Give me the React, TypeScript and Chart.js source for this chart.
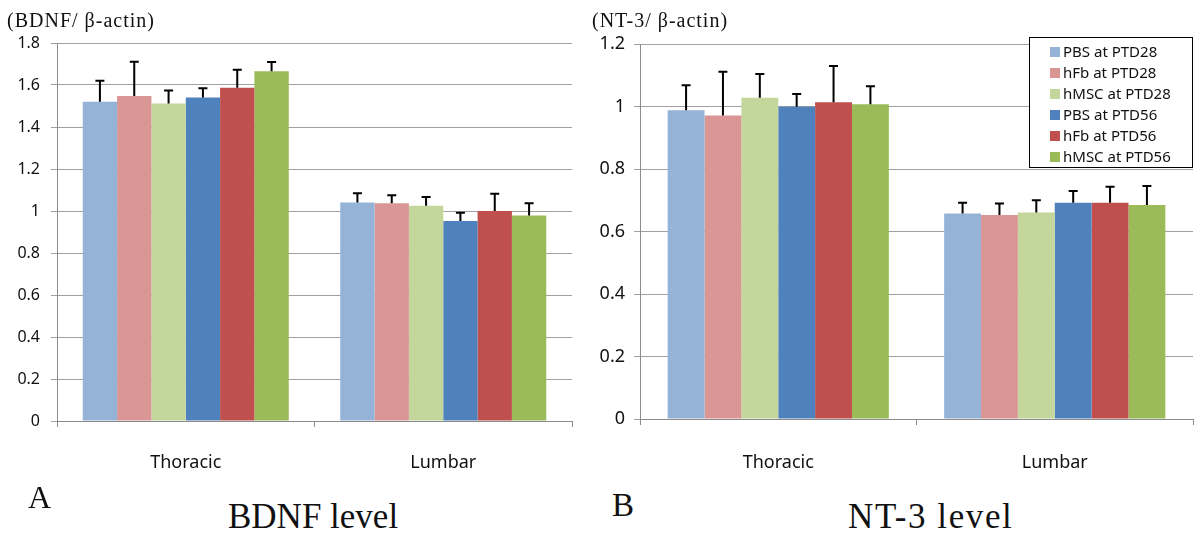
import { useEffect, useRef } from "react";
import { Chart, registerables } from "chart.js";

Chart.register(...registerables);

const categories = ["Thoracic", "Lumbar"];
const seriesNames = [
  "PBS at PTD28",
  "hFb at PTD28",
  "hMSC at PTD28",
  "PBS at PTD56",
  "hFb at PTD56",
  "hMSC at PTD56",
];
const seriesColors = ["#95B3D7", "#D99694", "#C3D69B", "#4F81BD", "#C0504D", "#9BBB59"];

// BDNF / beta-actin
const bdnfThoracic = [1.52, 1.548, 1.512, 1.54, 1.587, 1.665];
const bdnfThoracicErr = [0.1, 0.163, 0.062, 0.045, 0.086, 0.045];
const bdnfLumbar = [1.04, 1.037, 1.025, 0.952, 1.0, 0.978];
const bdnfLumbarErr = [0.045, 0.038, 0.042, 0.04, 0.082, 0.059];

// NT-3 / beta-actin
const nt3Thoracic = [0.988, 0.971, 1.028, 0.999, 1.014, 1.007];
const nt3ThoracicErr = [0.08, 0.14, 0.076, 0.041, 0.116, 0.058];
const nt3Lumbar = [0.658, 0.653, 0.661, 0.692, 0.692, 0.685];
const nt3LumbarErr = [0.034, 0.037, 0.039, 0.038, 0.051, 0.061];

const bdnfYMax = 1.8;
const nt3YMax = 1.2;
const yStep = 0.2;

const SANS = "'Noto Sans', sans-serif";
const SERIF = "'Liberation Serif', 'Times New Roman', serif";

const errorBarPlugin = {
  id: "errorBars",
  afterDatasetsDraw(chart: any, _args: any, opts: any) {
    const ctx = chart.ctx;
    const yScale = chart.scales.y;
    ctx.save();
    ctx.strokeStyle = "#000000";
    ctx.lineWidth = 2;
    chart.data.datasets.forEach((ds: any, di: number) => {
      const meta = chart.getDatasetMeta(di);
      meta.data.forEach((bar: any, i: number) => {
        const v = ds.data[i] as number;
        const e = opts.errors[di][i];
        const top = yScale.getPixelForValue(v + e);
        ctx.beginPath();
        ctx.moveTo(bar.x, bar.y);
        ctx.lineTo(bar.x, top);
        ctx.moveTo(bar.x - 4.5, top);
        ctx.lineTo(bar.x + 4.5, top);
        ctx.stroke();
      });
    });
    ctx.restore();
  },
};

const boxLegendPlugin = {
  id: "boxLegend",
  afterDraw(chart: any, _args: any, opts: any) {
    if (!opts || !opts.show) return;
    const ctx = chart.ctx;
    const area = chart.chartArea;
    const w = 163;
    const h = 130;
    const right = area.right - 1;
    const left = right - w;
    const top = area.top - 7;
    ctx.save();
    ctx.fillStyle = "#ffffff";
    ctx.fillRect(left, top, w, h);
    ctx.strokeStyle = "#000000";
    ctx.lineWidth = 1;
    ctx.strokeRect(Math.round(left) + 0.5, Math.round(top) + 0.5, w, h);
    ctx.font = `15px ${SANS}`;
    ctx.textBaseline = "middle";
    ctx.textAlign = "left";
    chart.data.datasets.forEach((ds: any, i: number) => {
      const cy = top + 15 + i * 21;
      ctx.fillStyle = ds.backgroundColor;
      ctx.fillRect(left + 21, cy - 5, 10, 10);
      ctx.fillStyle = "#111111";
      ctx.fillText(ds.label, left + 34, cy + 1);
    });
    ctx.restore();
  },
};

type PanelProps = {
  left: number;
  width: number;
  height: number;
  thor: number[];
  thorErr: number[];
  lumb: number[];
  lumbErr: number[];
  yMax: number;
  padTop: number;
  padRight: number;
  yWidth: number;
  areaBottom: number;
  yFont: number;
  yPad: number;
  xPad: number;
  legend: boolean;
};

function BarPanel(p: PanelProps) {
  const ref = useRef<HTMLCanvasElement | null>(null);
  useEffect(() => {
    if (!ref.current) return;
    const datasets = seriesNames.map((name, i) => ({
      label: name,
      data: [p.thor[i], p.lumb[i]],
      backgroundColor: seriesColors[i],
      borderWidth: 0,
      categoryPercentage: 0.8,
      barPercentage: 1.0,
    }));
    const errors = seriesNames.map((_, i) => [p.thorErr[i], p.lumbErr[i]]);
    const chart = new Chart(ref.current, {
      type: "bar",
      data: { labels: categories, datasets },
      options: {
        responsive: false,
        animation: false,
        devicePixelRatio: 1,
        layout: { padding: { top: p.padTop, right: p.padRight, left: 0, bottom: 0 } },
        plugins: {
          legend: { display: false },
          tooltip: { enabled: false },
          errorBars: { errors },
          boxLegend: { show: p.legend },
        } as any,
        scales: {
          x: {
            grid: {
              display: true,
              drawOnChartArea: false,
              drawTicks: true,
              tickLength: 6,
              color: "#8c8c8c",
              offset: true,
            },
            border: { color: "#8c8c8c", width: 1 },
            ticks: {
              color: "#111111",
              font: { family: SANS, size: 18 },
              padding: p.xPad,
            },
            afterFit: (s: any) => {
              s.height = p.height - p.areaBottom;
            },
          },
          y: {
            min: 0,
            max: p.yMax,
            ticks: {
              stepSize: yStep,
              color: "#111111",
              font: { family: SANS, size: p.yFont },
              padding: p.yPad,
              callback: (v: any) => String(Math.round(Number(v) * 10) / 10),
            },
            grid: { color: "#a0a0a0", tickLength: 6, drawTicks: true },
            border: { color: "#8c8c8c", width: 1 },
            afterFit: (s: any) => {
              s.width = p.yWidth;
            },
          },
        },
      },
      plugins: [errorBarPlugin, boxLegendPlugin],
    } as any);
    return () => chart.destroy();
  }, []);
  return (
    <div style={{ position: "absolute", left: p.left, top: 0, width: p.width, height: p.height }}>
      <canvas ref={ref} width={p.width} height={p.height} style={{ display: "block" }} />
    </div>
  );
}

const textStyle = (left: number, top: number, size: number, spacing = 0): React.CSSProperties => ({
  position: "absolute",
  left,
  top,
  fontFamily: SERIF,
  fontSize: size,
  lineHeight: `${size}px`,
  letterSpacing: spacing,
  whiteSpace: "nowrap",
  color: "#111111",
});

export default function App() {
  return (
    <div
      style={{
        position: "absolute",
        left: 0,
        top: 0,
        width: 1200,
        height: 552,
        background: "#ffffff",
        overflow: "hidden",
      }}
    >
      <BarPanel
        left={0}
        width={590}
        height={480}
        thor={bdnfThoracic}
        thorErr={bdnfThoracicErr}
        lumb={bdnfLumbar}
        lumbErr={bdnfLumbarErr}
        yMax={bdnfYMax}
        padTop={43}
        padRight={18}
        yWidth={57}
        areaBottom={421}
        yFont={16}
        yPad={11}
        xPad={25}
        legend={false}
      />
      <BarPanel
        left={590}
        width={610}
        height={480}
        thor={nt3Thoracic}
        thorErr={nt3ThoracicErr}
        lumb={nt3Lumbar}
        lumbErr={nt3LumbarErr}
        yMax={nt3YMax}
        padTop={44}
        padRight={7}
        yWidth={50}
        areaBottom={419}
        yFont={18}
        yPad={9}
        xPad={27}
        legend={true}
      />
      <div style={textStyle(7, 10, 20, 1)}>(BDNF/ β-actin)</div>
      <div style={textStyle(592, 10, 20, 1)}>(NT-3/ β-actin)</div>
      <div style={textStyle(28, 481, 32)}>A</div>
      <div style={textStyle(228, 499, 35)}>BDNF level</div>
      <div style={textStyle(612, 489, 33)}>B</div>
      <div style={textStyle(848, 499, 35, 1.6)}>NT-3 level</div>
    </div>
  );
}
